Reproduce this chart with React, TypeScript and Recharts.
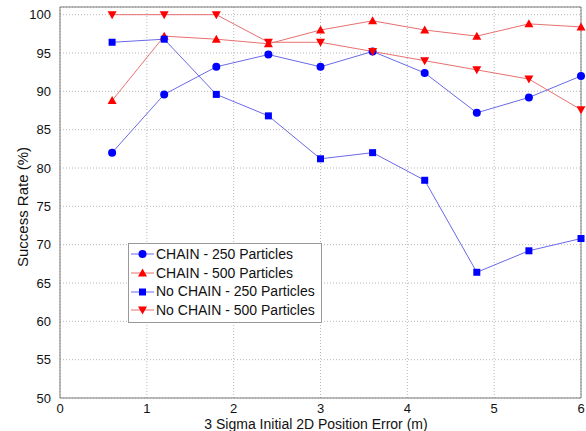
import React from 'react';
import {
	LineChart,
	Line,
	XAxis,
	YAxis,
	CartesianGrid,
	ReferenceArea,
} from 'recharts';

const errorX = [0.6, 1.2, 1.8, 2.4, 3.0, 3.6, 4.2, 4.8, 5.4, 6.0];
const chain250 = [82, 89.6, 93.2, 94.8, 93.2, 95.2, 92.4, 87.2, 89.2, 92];
const chain500 = [88.8, 97.2, 96.8, 96.2, 98, 99.2, 98, 97.2, 98.8, 98.4];
const noChain250 = [96.4, 96.8, 89.6, 86.8, 81.2, 82, 78.4, 66.4, 69.2, 70.8];
const noChain500 = [100, 100, 100, 96.4, 96.4, 95.2, 94, 92.8, 91.6, 87.6];

const xTicks = [0, 1, 2, 3, 4, 5, 6];
const yTicks = [50, 55, 60, 65, 70, 75, 80, 85, 90, 95, 100];

const data = errorX.map((x, i) => ({
	x,
	chain250: chain250[i],
	chain500: chain500[i],
	noChain250: noChain250[i],
	noChain500: noChain500[i],
}));

type Shape = 'circle' | 'up' | 'square' | 'down';

const BLUE = '#0000ff';
const RED = '#ff0000';
const FONT = '"Liberation Sans", Arial, sans-serif';

function Marker({ shape, cx, cy, color }: { shape: Shape; cx: number; cy: number; color: string }) {
	if (shape === 'circle') return <circle cx={cx} cy={cy} r={4} fill={color} />;
	if (shape === 'square') return <rect x={cx - 3.5} y={cy - 3.5} width={7} height={7} fill={color} />;
	if (shape === 'up')
		return <polygon points={`${cx},${cy - 4.5} ${cx - 4.5},${cy + 3.5} ${cx + 4.5},${cy + 3.5}`} fill={color} />;
	return <polygon points={`${cx},${cy + 4.5} ${cx - 4.5},${cy - 3.5} ${cx + 4.5},${cy - 3.5}`} fill={color} />;
}

const makeDot = (shape: Shape, color: string) => (props: any) => {
	const { cx, cy, index } = props;
	if (cx == null || cy == null) return <g key={index} />;
	return <Marker key={index} shape={shape} cx={cx} cy={cy} color={color} />;
};

const series = [
	{ key: 'chain250', name: 'CHAIN - 250 Particles', color: BLUE, line: '#6a6ae8', shape: 'circle' as Shape },
	{ key: 'chain500', name: 'CHAIN - 500 Particles', color: RED, line: '#e87070', shape: 'up' as Shape },
	{ key: 'noChain250', name: 'No CHAIN - 250 Particles', color: BLUE, line: '#6a6ae8', shape: 'square' as Shape },
	{ key: 'noChain500', name: 'No CHAIN - 500 Particles', color: RED, line: '#e87070', shape: 'down' as Shape },
];

function LegendBox() {
	return (
		<div
			style={{
				position: 'absolute',
				left: 128,
				top: 243,
				width: 190,
				border: '1px solid #999',
				background: '#fff',
				padding: '1px 0 2px 2px',
				fontFamily: FONT,
				fontSize: 14,
				color: '#111',
				lineHeight: '18.7px',
			}}
		>
			{series.map((s) => (
				<div key={s.key} style={{ display: 'flex', alignItems: 'center', whiteSpace: 'nowrap' }}>
					<svg width={23} height={12} style={{ marginRight: 2 }}>
						<line x1={0} y1={6} x2={23} y2={6} stroke={s.line} strokeWidth={1} />
						<Marker shape={s.shape} cx={11.5} cy={6} color={s.color} />
					</svg>
					<span>{s.name}</span>
				</div>
			))}
		</div>
	);
}

export default function App() {
	return (
		<div style={{ position: 'absolute', left: 0, top: 0, width: 586, height: 431, background: '#fff' }}>
			<LineChart width={586} height={431} data={data} margin={{ top: 7, right: 5, left: 0, bottom: 0 }}>
				<CartesianGrid stroke="#b8b8b8" strokeDasharray="1 2" />
				<XAxis
					dataKey="x"
					type="number"
					domain={[0, 6]}
					ticks={xTicks}
					height={33}
					tickLine={false}
					axisLine={false}
					tick={{ fontSize: 13, fill: '#111', fontFamily: FONT }}
					tickMargin={0}
					label={{
						content: () => (
							<text x={316} y={424} textAnchor="middle" dominantBaseline="central" fontSize={14} fill="#111" fontFamily={FONT}>
								3 Sigma Initial 2D Position Error (m)
							</text>
						),
					}}
				/>
				<YAxis
					type="number"
					domain={[50, 101]}
					ticks={yTicks}
					width={60}
					tickLine={false}
					axisLine={false}
					tick={{ fontSize: 13, fill: '#111', fontFamily: FONT }}
					tickMargin={3}
					label={{
						content: () => (
							<text
								x={22}
								y={207}
								transform="rotate(-90 22 207)"
								textAnchor="middle"
								dominantBaseline="central"
								fontSize={15}
								fill="#111"
								fontFamily={FONT}
							>
								Success Rate (%)
							</text>
						),
					}}
				/>
				<ReferenceArea x1={0} x2={6} y1={50} y2={101} fill="none" stroke="#7a7a7a" strokeWidth={1} />
				{series.map((s) => (
					<Line
						key={s.key}
						dataKey={s.key}
						name={s.name}
						stroke={s.line}
						strokeWidth={1}
						dot={makeDot(s.shape, s.color)}
						activeDot={false}
						isAnimationActive={false}
					/>
				))}
			</LineChart>
			<LegendBox />
		</div>
	);
}
